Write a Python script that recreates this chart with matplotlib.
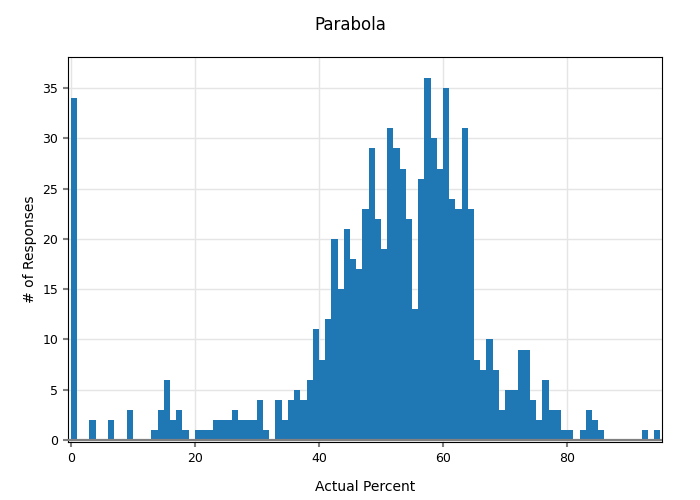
import numpy as np
import matplotlib.pyplot as plt

# histogram bins of width 1, from 0 to 95
edges = np.arange(0, 96)
counts = [34, 0, 0, 2, 0, 0, 2, 0, 0, 3,
          0, 0, 0, 1, 3, 6, 2, 3, 1, 0,
          1, 1, 1, 2, 2, 2, 3, 2, 2, 2,
          4, 1, 0, 4, 2, 4, 5, 4, 6, 11,
          8, 12, 20, 15, 21, 18, 17, 23, 29, 22,
          19, 31, 29, 27, 22, 13, 26, 36, 30, 27,
          35, 24, 23, 31, 23, 8, 7, 10, 7, 3,
          5, 5, 9, 9, 4, 2, 6, 3, 3, 1,
          1, 0, 1, 3, 2, 1, 0, 0, 0, 0,
          0, 0, 1, 0, 1]

fig, ax = plt.subplots(figsize=(7, 5), dpi=100)
fig.subplots_adjust(left=0.097, right=0.945, top=0.886, bottom=0.116)

ax.hist(edges[:-1] + 0.5, bins=edges, weights=counts, color="#1f77b4")
ax.axhline(0, color="#808080", lw=1.6, zorder=3)

ax.set_xlim(-0.45, 95.2)
ax.set_ylim(-0.2, 38.1)
ax.set_xticks([0, 20, 40, 60, 80])
ax.set_yticks(np.arange(0, 36, 5))

ax.set_axisbelow(True)
ax.grid(True, color="#e5e5e5", lw=1)
ax.tick_params(color="#808080", length=3.5, width=1.5, labelsize=9)
for s in ax.spines.values():
    s.set_color("black")

ax.set_xlabel("Actual Percent", fontsize=10, labelpad=11)
ax.set_ylabel("# of Responses", fontsize=10, labelpad=4)
fig.suptitle("Parabola", fontsize=12, y=0.968)

plt.savefig("out.png")
